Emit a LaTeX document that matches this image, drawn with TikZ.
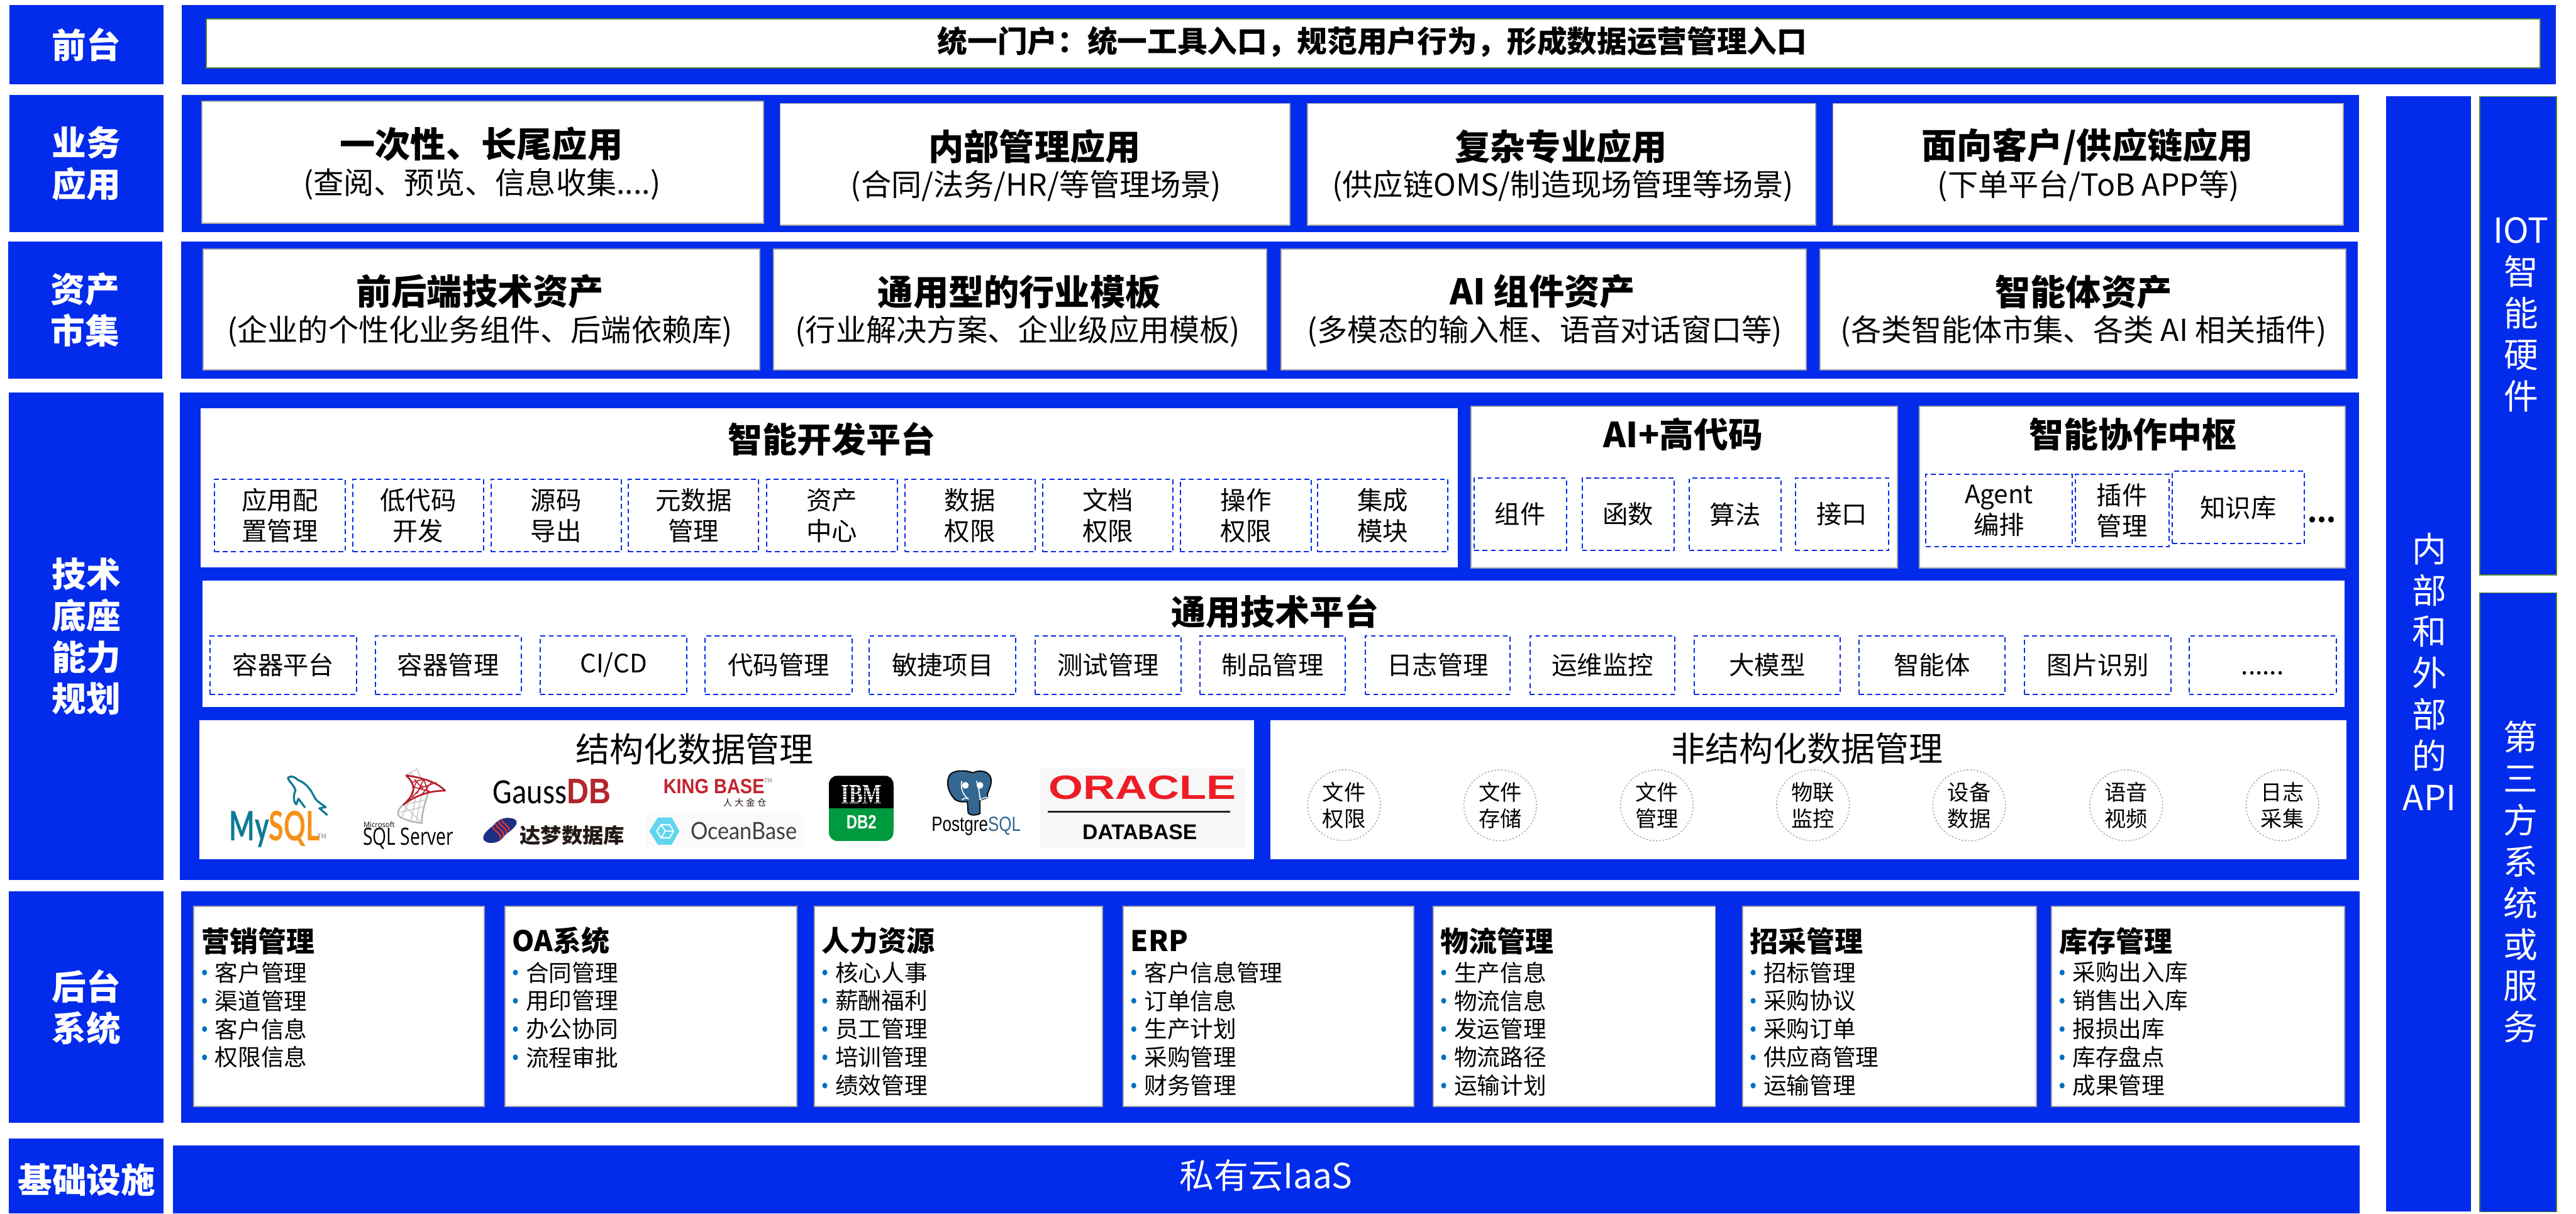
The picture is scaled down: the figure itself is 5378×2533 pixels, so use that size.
\documentclass[tikz,border=0pt]{standalone}
\usepackage{fontspec}
\usetikzlibrary{shapes.geometric}
\setmainfont{Noto Sans CJK SC}
\newfontfamily\libfont{Liberation Sans}
\newfontfamily\carlfont{Carlito}
\newfontfamily\latofont{Lato}
\newfontfamily\opfont{Open Sans}
\newfontfamily\sfont{Liberation Serif}
\definecolor{bandblue}{HTML}{022BEB}
\definecolor{edgegray}{HTML}{A6A6A6}
\definecolor{edgegreen}{HTML}{548235}
\definecolor{bulletblue}{HTML}{0070C0}
\definecolor{dolphin}{HTML}{0F7A94}
\definecolor{sqlorange}{HTML}{F5921B}
\definecolor{msred}{HTML}{B81F2E}
\definecolor{gausred}{HTML}{B3262B}
\definecolor{kingred}{HTML}{C0242F}
\definecolor{dmnavy}{HTML}{1B2F85}
\definecolor{dmred}{HTML}{E2332A}
\definecolor{dmtext}{HTML}{231815}
\definecolor{oceancyan}{HTML}{62D5EE}
\definecolor{ibmgreen}{HTML}{009A3E}
\definecolor{pgblue}{HTML}{336791}
\definecolor{orared}{HTML}{EE1C25}
\tikzset{
  band/.style={fill=bandblue,draw=none},
  sidelab/.style={fill=bandblue,draw=none,text=white,align=center,font=\fontsize{20.4}{24.6}\selectfont\bfseries},
  sidecol/.style={fill=bandblue,draw=none},
  sidetext/.style={text=white,inner sep=0,align=center,font=\fontsize{20.5}{24.6}\selectfont},
  plainbox/.style={fill=white,draw=none},
  grayedge/.style={fill=white,draw=edgegray,line width=0.7pt},
  greenedge/.style={fill=white,draw=edgegreen,line width=0.7pt},
  titletext/.style={font=\fontsize{21}{24}\selectfont\bfseries,inner sep=0},
  subtext/.style={font=\fontsize{18}{21}\selectfont,inner sep=0},
  sectitle/.style={font=\fontsize{20.5}{24}\selectfont\bfseries,inner sep=0},
  secplain/.style={font=\fontsize{20.2}{24}\selectfont,inner sep=0},
  dashcell/.style={fill=none,draw=bandblue,line width=0.75pt,dash pattern=on 2.9pt off 2pt,align=center,font=\fontsize{15.1}{18.2}\selectfont},
  roundcell/.style={ellipse,draw=gray!65,line width=0.6pt,dash pattern=on 0.9pt off 1.1pt,fill=none,inner sep=0,align=center,minimum width=43.2pt,minimum height=42.1pt,font=\fontsize{12.8}{15.6}\selectfont},
  headtext/.style={anchor=west,inner sep=0,font=\fontsize{16.8}{20}\selectfont\bfseries},
  itemtext/.style={anchor=west,inner sep=0,font=\fontsize{13.7}{16}\selectfont},
  bulletdot/.style={ellipse,fill=bulletblue,draw=none,inner sep=0,minimum width=3pt,minimum height=3.4pt},
  logobox/.style={inner sep=0,outer sep=0},
}
% rectangular node from two pixel corners
\newcommand{\pbox}[7]{%
  \pgfmathsetlengthmacro{\bw}{(#5-#3)*0.28453}%
  \pgfmathsetlengthmacro{\bh}{(#6-#4)*0.28453}%
  \node[#1,inner sep=0,minimum width=\bw,minimum height=\bh] (#2) at ({(#3+#5)/2},{(#4+#6)/2}) {#7};}
% text squeezed into a pixel box
\newcommand{\plogo}[6]{%
  \pgfmathsetlengthmacro{\bw}{(#4-#2)*0.28453}%
  \pgfmathsetlengthmacro{\bh}{(#5-#3)*0.28453}%
  \node[logobox] (#1) at ({(#2+#4)/2},{(#3+#5)/2}) {\resizebox{\bw}{\bh}{#6}};}
% title and sub line inside a box
\newcommand{\titled}[7]{%
  \node[titletext] (#1T) at (#2,#3) {#4};
  \node[subtext] (#1S) at (#5,#6) {#7};}
\newcommand{\backcol}[5]{%
  \pbox{grayedge}{#1}{#2}{1892}{#3}{2309}{}
  \node[headtext] (#1H) at (#2+15,1964) {#4};
  \foreach \itemtxt [count=\nn] in {#5} {
    \pgfmathsetmacro{\yy}{2030+(\nn-1)*59}
    \node[bulletdot] (#1B\nn) at (#2+22,\yy) {};
    \node[itemtext] (#1I\nn) at (#2+43,\yy) {\itemtxt};
  }}
\begin{document}
\begin{tikzpicture}[x=0.01cm,y=-0.01cm]
\useasboundingbox (0,0) rectangle (5378,2533);
% left labels
\pbox{sidelab}{lFront}{20}{10}{341}{176}{前台}
\pbox{sidelab}{lBiz}{20}{198}{341}{484}{业务\\应用}
\pbox{sidelab}{lAsset}{17}{504}{339}{790}{资产\\市集}
\pbox{sidelab}{lTech}{19}{820}{341}{1836}{技术\\底座\\能力\\规划}
\pbox{sidelab}{lBack}{19}{1861}{341}{2343}{后台\\系统}
\pbox{band}{lInfra}{19}{2377}{341}{2533}{}
\node[inner sep=0,text=white,font=\fontsize{20.4}{24.6}\selectfont\bfseries] (lInfraT) at (181,2463) {基础设施};
% bands
\pbox{band}{bFront}{381}{10}{5335}{176}{}
\pbox{band}{bBiz}{381}{198}{4923}{484}{}
\pbox{band}{bAsset}{379}{504}{4921}{790}{}
\pbox{band}{bTech}{377}{820}{4923}{1836}{}
\pbox{band}{bBack}{379}{1861}{4925}{2343}{}
\pbox{band}{bInfra}{362}{2391}{4925}{2533}{}
\node[inner sep=0,text=white,font=\fontsize{20.5}{24}\selectfont] (bInfraT) at (2643,2454) {私有云IaaS};
% right columns
\pbox{sidecol}{cApi}{4981}{202}{5158}{2528}{}
\pbox{sidecol,draw=edgegreen,line width=0.6pt}{cIot}{5177}{202}{5337}{1200}{}
\pbox{sidecol,draw=edgegreen,line width=0.6pt}{cThird}{5177}{1238}{5337}{2529}{}
\node[sidetext] (cApiT) at (5072,1402) {内\\部\\和\\外\\部\\的\\API};
\node[sidetext] (cIotT) at (5263,657) {IOT\\智\\能\\硬\\件};
\node[sidetext] (cThirdT) at (5262,1841) {第\\三\\方\\系\\统\\或\\服\\务};
% front
\pbox{greenedge}{portal}{432}{39}{5302}{142}{}
\node[inner sep=0,font=\fontsize{17.8}{21}\selectfont\bfseries] (portalT) at (2865,87) {统一门户：统一工具入口，规范用户行为，形成数据运营管理入口};
% business apps
\pbox{grayedge}{a1}{422}{212}{1594}{466}{}
\pbox{grayedge}{a2}{1629}{216}{2693}{470}{}
\pbox{grayedge}{a3}{2730}{216}{3790}{470}{}
\pbox{grayedge}{a4}{3827}{216}{4892}{470}{}
\titled{a1}{1005}{301}{一次性、长尾应用}{1006}{384}{(查阅、预览、信息收集....)}
\titled{a2}{2160}{306}{内部管理应用}{2163}{389}{(合同/法务/HR/等管理场景)}
\titled{a3}{3259}{306}{复杂专业应用}{3263}{388}{(供应链OMS/制造现场管理等场景)}
\titled{a4}{4358}{306}{面向客户/供应链应用}{4360}{388}{(下单平台/ToB APP等)}
% assets
\pbox{grayedge}{m1}{424}{520}{1586}{772}{}
\pbox{grayedge}{m2}{1615}{520}{2644}{772}{}
\pbox{grayedge}{m3}{2675}{520}{3770}{772}{}
\pbox{grayedge}{m4}{3800}{520}{4897}{772}{}
\titled{m1}{1002}{609}{前后端技术资产}{1002}{692}{(企业的个性化业务组件、后端依赖库)}
\titled{m2}{2128}{609}{通用型的行业模板}{2125}{692}{(行业解决方案、企业级应用模板)}
\titled{m3}{3220}{609}{AI 组件资产}{3225}{692}{(多模态的输入框、语音对话窗口等)}
\titled{m4}{4350}{609}{智能体资产}{4350}{692}{(各类智能体市集、各类 AI 相关插件)}
% smart dev platform
\pbox{plainbox}{dev}{420}{852}{3043}{1184}{}
\node[sectitle] (devT) at (1736,916) {智能开发平台};
\pbox{dashcell}{d1}{448}{1000}{721}{1152}{应用配\\置管理}
\pbox{dashcell}{d2}{737}{1000}{1009}{1152}{低代码\\开发}
\pbox{dashcell}{d3}{1025}{1000}{1297}{1152}{源码\\导出}
\pbox{dashcell}{d4}{1312}{1000}{1584}{1152}{元数据\\管理}
\pbox{dashcell}{d5}{1601}{1000}{1873}{1152}{资产\\中心}
\pbox{dashcell}{d6}{1889}{1000}{2161}{1152}{数据\\权限}
\pbox{dashcell}{d7}{2177}{1000}{2449}{1152}{文档\\权限}
\pbox{dashcell}{d8}{2464}{1000}{2738}{1152}{操作\\权限}
\pbox{dashcell}{d9}{2751}{1000}{3023}{1152}{集成\\模块}
% AI + high code
\pbox{grayedge}{ai}{3071}{848}{3961}{1186}{}
\node[sectitle] (aiT) at (3514,907) {AI+高代码};
\pbox{dashcell}{e1}{3078}{998}{3270}{1149}{组件}
\pbox{dashcell}{e2}{3303}{998}{3495}{1149}{函数}
\pbox{dashcell}{e3}{3527}{998}{3718}{1149}{算法}
\pbox{dashcell}{e4}{3748}{998}{3943}{1149}{接口}
% collaboration hub
\pbox{grayedge}{hub}{4007}{848}{4896}{1186}{}
\node[sectitle] (hubT) at (4453,907) {智能协作中枢};
\pbox{dashcell}{h1}{4021}{990}{4326}{1141}{Agent\\编排}
\pbox{dashcell}{h2}{4333}{990}{4528}{1141}{插件\\管理}
\pbox{dashcell}{h3}{4535}{984}{4811}{1135}{知识库}
\node[inner sep=0,font=\fontsize{16}{20}\selectfont\bfseries] (hubDots) at (4847,1085) {...};
% general tech platform
\pbox{plainbox}{gen}{424}{1212}{4893}{1476}{}
\node[sectitle] (genT) at (2662,1276) {通用技术平台};
\pbox{dashcell}{g1}{439}{1327}{744}{1449}{容器平台}
\pbox{dashcell}{g2}{784}{1327}{1088}{1449}{容器管理}
\pbox{dashcell}{g3}{1128}{1327}{1434}{1449}{CI/CD}
\pbox{dashcell}{g4}{1472}{1327}{1779}{1449}{代码管理}
\pbox{dashcell}{g5}{1815}{1327}{2121}{1449}{敏捷项目}
\pbox{dashcell}{g6}{2161}{1327}{2466}{1449}{测试管理}
\pbox{dashcell}{g7}{2505}{1327}{2809}{1449}{制品管理}
\pbox{dashcell}{g8}{2850}{1327}{3153}{1449}{日志管理}
\pbox{dashcell}{g9}{3194}{1327}{3497}{1449}{运维监控}
\pbox{dashcell}{g10}{3537}{1327}{3842}{1449}{大模型}
\pbox{dashcell}{g11}{3881}{1327}{4186}{1449}{智能体}
\pbox{dashcell}{g12}{4227}{1327}{4532}{1449}{图片识别}
\pbox{dashcell}{g13}{4570}{1327}{4877}{1449}{\vphantom{容}......}
% structured data
\pbox{plainbox}{sd}{417}{1504}{2617}{1793}{}
\node[secplain] (sdT) at (1450,1564) {结构化数据管理};
% unstructured data
\pbox{plainbox}{ud}{2653}{1504}{4898}{1793}{}
\node[secplain] (udT) at (3773,1562) {非结构化数据管理};
\node[roundcell] (u1) at (2806,1681) {文件\\权限};
\node[roundcell] (u2) at (3132,1681) {文件\\存储};
\node[roundcell] (u3) at (3459,1681) {文件\\管理};
\node[roundcell] (u4) at (3785,1681) {物联\\监控};
\node[roundcell] (u5) at (4111,1681) {设备\\数据};
\node[roundcell] (u6) at (4439,1681) {语音\\视频};
\node[roundcell] (u7) at (4765,1681) {日志\\采集};
% logos: MySQL
\plogo{mysql}{479}{1700}{668}{1762}{\latofont\bfseries\textcolor{dolphin}{My}\textcolor{sqlorange}{SQL}}
\node[logobox,text=gray,font=\fontsize{4}{5}\selectfont] (mysqlTm) at (672,1746) {TM};
\begin{scope}[shift={(440,1590)},x=0.00357cm,y=-0.00333cm,line width=1.2pt,draw=dolphin,line join=round]
  \draw (450,100) .. controls (470,85) and (490,95) .. (510,115) .. controls (570,140) and (590,190) .. (610,230) .. controls (625,255) and (650,265) .. (672,285) -- (635,292) -- (682,335);
  \draw (450,100) .. controls (460,130) and (490,150) .. (495,180) .. controls (480,215) and (485,255) .. (500,268) -- (512,232) -- (552,288);
\end{scope}
% logos: SQL Server
\plogo{mssqlM}{759}{1715}{824}{1727}{\opfont Microsoft}
\plogo{mssqlS}{758}{1732}{947}{1768}{\opfont SQL Server}
\begin{scope}[shift={(440,1590)},x=0.00357cm,y=-0.00333cm,line join=round]
  \draw[gray!35,line width=0.8pt] (1140,85) -- (1205,45) -- (1225,100) (1165,70) -- (1200,100);
  \draw[gray!60,line width=0.9pt] (1125,270) .. controls (1080,310) and (1090,340) .. (1115,352) .. controls (1160,375) and (1200,380) .. (1235,385) .. controls (1230,320) and (1255,260) .. (1270,190);
  \draw[gray!45,line width=0.5pt] (1125,270) -- (1235,385) (1095,320) -- (1250,280) (1125,270) -- (1255,240) (1200,220) -- (1170,370) (1160,245) -- (1115,352) (1230,215) -- (1200,378);
  \draw[msred,line width=1pt] (1140,85) .. controls (1230,100) and (1320,125) .. (1370,182) .. controls (1280,180) and (1190,215) .. (1125,270) .. controls (1190,210) and (1210,150) .. (1140,85);
  \draw[msred,line width=0.6pt] (1172,130) -- (1245,110) -- (1205,200) (1190,160) -- (1290,190) (1245,110) -- (1270,190) (1320,130) -- (1240,160) (1175,225) -- (1240,150) (1190,110) -- (1240,170) (1295,122) -- (1230,210) (1170,210) -- (1200,130);
\end{scope}
% logos: GaussDB
\plogo{gauss}{1029}{1626}{1275}{1677}{\carlfont Gauss\textcolor{gausred}{\libfont\bfseries DB}}
% logos: Kingbase
\plogo{king}{1385}{1626}{1596}{1656}{\libfont\bfseries\textcolor{kingred}{KING BASE}}
\node[logobox,text=gray,font=\fontsize{3.5}{4}\selectfont] (kingTm) at (1604,1629) {TM};
\node[logobox,text=dmtext,font=\fontsize{5.4}{6}\selectfont] (kingC) at (1555,1675) {人\hspace{0.25em}大\hspace{0.25em}金\hspace{0.25em}仓};
% logos: Dameng
\begin{scope}[shift={(1000,1590)},x=0.004464cm,y=-0.00333cm]
  \fill[dmnavy] (130,352) .. controls (170,350) and (190,375) .. (165,410) .. controls (150,435) and (130,445) .. (115,470) .. controls (100,510) and (40,525) .. (22,490) .. controls (10,455) and (50,420) .. (70,395) .. controls (85,370) and (105,355) .. (130,352) -- cycle;
  \draw[dmred,line width=0.9pt] (62,405) .. controls (70,440) and (105,440) .. (100,490);
  \draw[dmred,line width=0.9pt] (76,385) .. controls (85,425) and (118,425) .. (114,470);
  \draw[dmred,line width=0.9pt] (90,372) .. controls (100,410) and (130,410) .. (127,450);
  \draw[dmred,line width=0.9pt] (105,362) .. controls (112,395) and (142,395) .. (140,432);
\end{scope}
\plogo{dameng}{1085}{1725}{1304}{1762}{\bfseries\textcolor{dmtext}{达梦数据库}}
% logos: OceanBase
\begin{scope}[shift={(1000,1590)},x=0.004464cm,y=-0.00333cm]
  \fill[black!2] (780,325) rectangle (1515,540);
  \fill[oceancyan] (795,435) -- (835,350) -- (900,350) -- (935,435) -- (900,520) -- (835,520) -- cycle;
  \draw[white,line width=0.7pt] (830,435) -- (850,395) -- (890,395) -- (908,435) -- (890,478) -- (850,478) -- cycle (850,395) -- (870,435) -- (908,435) (870,435) -- (850,478);
\end{scope}
\plogo{ocean}{1442}{1717}{1664}{1753}{\latofont\textcolor{black!75}{OceanBase}}
% logos: IBM DB2
\begin{scope}[shift={(1700,1590)},x=0.005867cm,y=-0.00333cm]
  \fill[black,rounded corners=5pt] (52,88) rectangle (282,200);
  \fill[ibmgreen,rounded corners=5pt] (52,385) rectangle (282,497);
  \fill[black] (52,150) rectangle (282,292);
  \fill[ibmgreen] (52,292) rectangle (282,430);
\end{scope}
\plogo{ibm}{1756}{1640}{1841}{1678}{\sfont\bfseries\textcolor{white}{IBM}}
\foreach \ystr in {1645,1651,1657,1663,1669,1675}{\draw[black,line width=0.35pt] (1752,\ystr) -- (1845,\ystr);}
\plogo{db2}{1767}{1702}{1830}{1730}{\libfont\bfseries\textcolor{white}{DB2}}
% logos: PostgreSQL
\begin{scope}[shift={(1700,1590)},x=0.005867cm,y=-0.00333cm,line join=round]
  \filldraw[fill=pgblue,draw=black,line width=0.7pt] (480,90) .. controls (490,50) and (540,50) .. (565,70) .. controls (590,45) and (630,60) .. (630,120) .. controls (630,170) and (610,200) .. (618,222) .. controls (605,235) and (590,240) .. (590,240) -- (590,325) .. controls (575,340) and (550,335) .. (548,320) -- (545,250) .. controls (525,255) and (505,250) .. (495,225) .. controls (475,180) and (470,130) .. (480,90) -- cycle;
  \draw[white,line width=0.6pt] (525,120) .. controls (520,170) and (530,210) .. (550,235) (578,120) .. controls (585,170) and (590,200) .. (590,240) (525,240) .. controls (535,225) and (545,225) .. (550,235) (590,240) .. controls (600,228) and (610,225) .. (618,222);
  \fill[white] (538,148) circle (2pt) (590,148) circle (2pt);
\end{scope}
\plogo{pg}{1945}{1710}{2131}{1740}{\libfont Postgre\textcolor{pgblue}{SQL}}
% logos: Oracle
\pbox{fill=black!3,draw=none}{orabg}{2171}{1603}{2600}{1770}{}
\plogo{ora}{2190}{1619}{2581}{1668}{\libfont\bfseries\textcolor{orared}{ORACLE}}
\coordinate (oraL) at (2187,1694);
\coordinate (oraR) at (2568,1694);
\draw[black!85,line width=1pt] (oraL) -- (oraR);
\plogo{orad}{2260}{1722}{2499}{1753}{\libfont\bfseries DATABASE}
% back office
\backcol{k1}{405}{1011}{营销管理}{客户管理,渠道管理,客户信息,权限信息}
\backcol{k2}{1054}{1663}{OA系统}{合同管理,用印管理,办公协同,流程审批}
\backcol{k3}{1700}{2301}{人力资源}{核心人事,薪酬福利,员工管理,培训管理,绩效管理}
\backcol{k4}{2345}{2951}{ERP}{客户信息管理,订单信息,生产计划,采购管理,财务管理}
\backcol{k5}{2992}{3581}{物流管理}{生产信息,物流信息,发运管理,物流路径,运输计划}
\backcol{k6}{3638}{4251}{招采管理}{招标管理,采购协议,采购订单,供应商管理,运输管理}
\backcol{k7}{4283}{4895}{库存管理}{采购出入库,销售出入库,报损出库,库存盘点,成果管理}
\end{tikzpicture}
\end{document}
